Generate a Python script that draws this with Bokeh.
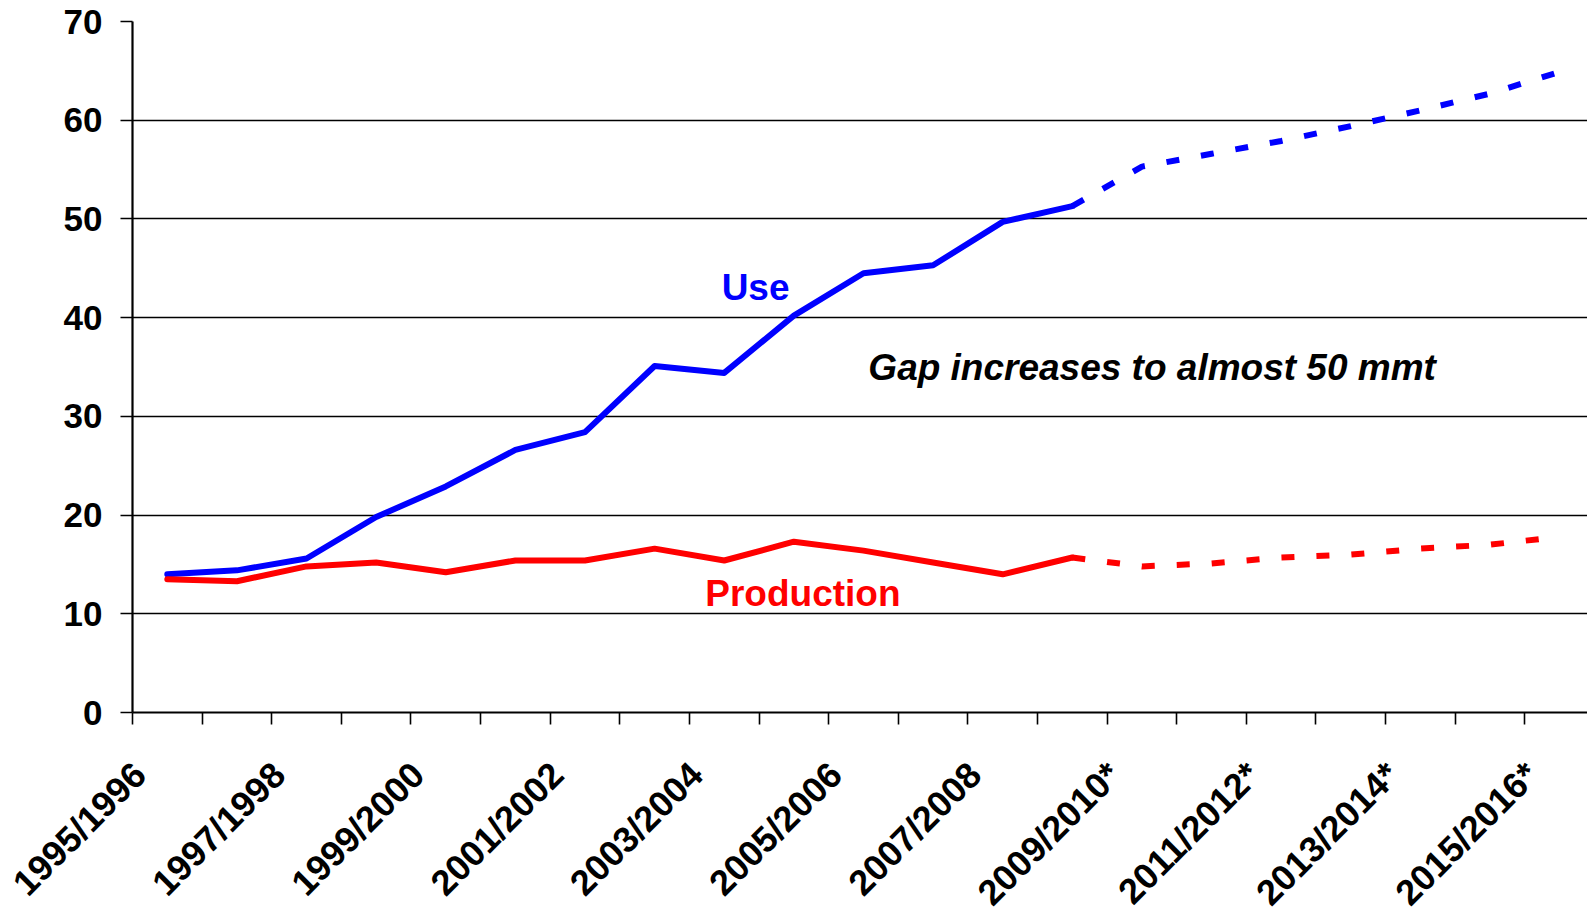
import numpy as np
from bokeh.plotting import figure
from bokeh.models import Range1d, FixedTicker, Label
from bokeh.core.properties import value
from bokeh.embed import file_html
from bokeh.resources import INLINE

# ---------------- data ----------------
seasons = ["1995/1996", "1996/1997", "1997/1998", "1998/1999", "1999/2000",
           "2000/2001", "2001/2002", "2002/2003", "2003/2004", "2004/2005",
           "2005/2006", "2006/2007", "2007/2008", "2008/2009", "2009/2010*",
           "2010/2011*", "2011/2012*", "2012/2013*", "2013/2014*", "2014/2015*",
           "2015/2016*"]
use = [14.0, 14.4, 15.6, 19.8, 22.9, 26.6, 28.4, 35.1, 34.4, 40.2, 44.5,
       45.3, 49.7, 51.3, 55.3, 56.6, 57.9, 59.4, 61.0, 62.7, 64.9]
production = [13.5, 13.3, 14.8, 15.2, 14.2, 15.4, 15.4, 16.6, 15.4, 17.3, 16.4,
              15.2, 14.0, 15.7, 14.8, 15.1, 15.7, 16.0, 16.6, 17.0, 17.8]
last_actual = 13          # index where the projection (dashed) begins
y_ticks = [0, 10, 20, 30, 40, 50, 60, 70]
label_every = 2

# ---------------- layout constants ----------------
FONT = "Liberation Sans"
W, H = 1587, 910
LEFT, TOP = 132, 21
FRAME_BOTTOM = 712        # y pixel of the x axis
X_END, Y_END = 20.9, 70
LABEL_SHIFT = 0.1         # category units, label anchor offset from boundary tick
LABEL_DROP = 56           # px below the x axis
LW = 6

n = len(seasons)
xc = np.arange(n) + 0.5

p = figure(width=W, height=H, x_range=Range1d(0, X_END), y_range=Range1d(0, Y_END),
           output_backend="svg", toolbar_location=None,
           min_border_left=LEFT, min_border_right=0, min_border_top=TOP,
           min_border_bottom=H - FRAME_BOTTOM)
p.outline_line_color = None
p.background_fill_color = "white"
p.border_fill_color = "white"

# grid
p.xgrid.visible = False
p.ygrid.ticker = FixedTicker(ticks=y_ticks)
p.ygrid.grid_line_color = "black"
p.ygrid.grid_line_width = 1.5

# y axis
ya = p.yaxis[0]
ya.ticker = FixedTicker(ticks=y_ticks)
ya.axis_line_color = "black"
ya.axis_line_width = 2.2
ya.major_tick_line_color = "black"
ya.major_tick_line_width = 1.6
ya.major_tick_in = 0
ya.major_tick_out = 12
ya.minor_tick_line_color = None
ya.major_label_standoff = 18
ya.major_label_text_font = FONT
ya.major_label_text_font_style = "bold"
ya.major_label_text_font_size = "35px"
ya.major_label_text_color = "black"

# x axis: ticks at category boundaries
xa = p.xaxis[0]
bounds = list(range(0, n + 1))
xa.ticker = FixedTicker(ticks=bounds)
xa.major_label_overrides = {b: "" for b in bounds}
xa.major_label_text_font_size = "1px"
xa.axis_line_color = "black"
xa.axis_line_width = 2.2
xa.major_tick_line_color = "black"
xa.major_tick_line_width = 1.6
xa.major_tick_in = 0
xa.major_tick_out = 12
xa.minor_tick_line_color = None
xa.major_label_standoff = 0

# rotated season labels under every other boundary tick (drawn unclipped)
px_per_y = (FRAME_BOTTOM - TOP) / Y_END
lbl_idx = list(range(0, n, label_every))
lbl = p.text(x=[i + LABEL_SHIFT for i in lbl_idx],
             y=[-LABEL_DROP / px_per_y] * len(lbl_idx),
             text=[seasons[i] for i in lbl_idx],
             angle=np.pi / 4, text_align="right", text_baseline="middle",
             text_font=value(FONT), text_font_style="bold", text_font_size="36px",
             text_color="black")
lbl.level = "overlay"

# lines
s = slice(0, last_actual + 1)
d = slice(last_actual, n)
p.line(xc[s], use[s], line_color="#0000FF", line_width=LW, line_join="round", line_cap="round")
p.line(xc[d], use[d], line_color="#0000FF", line_width=LW, line_dash="13 22", line_join="round")
p.line(xc[s], production[s], line_color="#FF0000", line_width=LW, line_join="round", line_cap="round")
p.line(xc[d], production[d], line_color="#FF0000", line_width=LW, line_dash="13 22", line_join="round")

# annotations
p.add_layout(Label(x=8.95, y=43.1, text="Use", text_align="center", text_baseline="alphabetic",
                   text_font=FONT, text_font_style="bold", text_font_size="37px", text_color="#0000FF"))
p.add_layout(Label(x=9.63, y=12.1, text="Production", text_align="center", text_baseline="alphabetic",
                   text_font=FONT, text_font_style="bold", text_font_size="37px", text_color="#FF0000"))
p.add_layout(Label(x=10.57, y=35.0, text="Gap increases to almost 50 mmt", text_align="left",
                   text_baseline="alphabetic", text_font=FONT, text_font_style="bold italic",
                   text_font_size="37px", text_color="black"))

open("out.html", "w").write(file_html(p, INLINE))
